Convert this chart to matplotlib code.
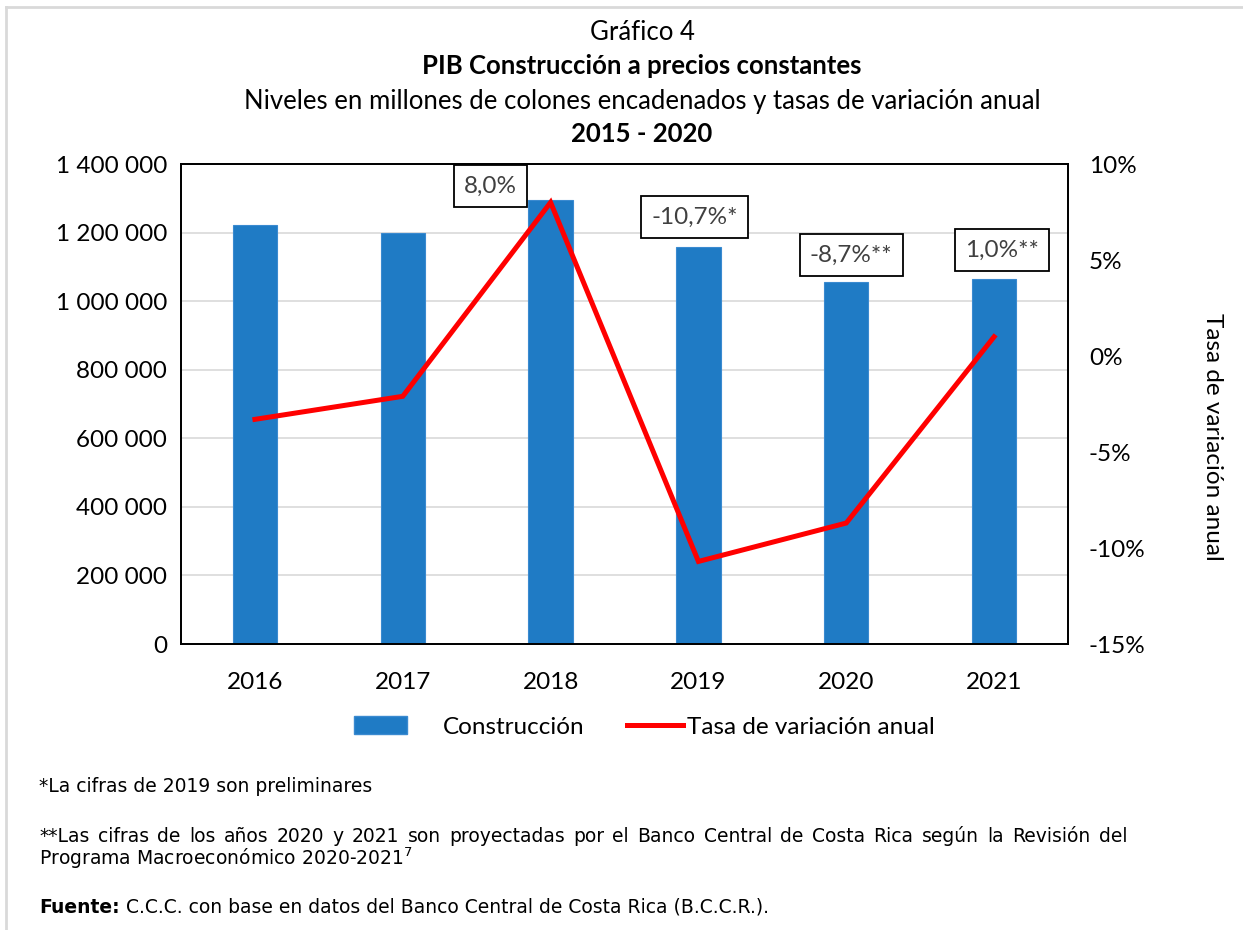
#!/usr/bin/env python
import matplotlib
matplotlib.use('Agg')
import matplotlib.pyplot as plt
from matplotlib.ticker import FuncFormatter
from matplotlib.lines import Line2D
from matplotlib.patches import Patch

# data
years = ['2016', '2017', '2018', '2019', '2020', '2021']
construccion = [1222000, 1199000, 1295000, 1158000, 1056000, 1065000]
tasa = [-3.3, -2.1, 8.0, -10.7, -8.7, 1.0]
etiquetas = ['8,0%', '-10,7%*', '-8,7%**', '1,0%**']
etiqueta_idx = [2, 3, 4, 5]

nota1 = '*La cifras de 2019 son preliminares'
nota2a = '**Las cifras de los años 2020 y 2021 son proyectadas por el Banco Central de Costa Rica según la Revisión del'
nota2b = 'Programa Macroeconómico 2020-2021$^7$'
fuente = 'C.C.C. con base en datos del Banco Central de Costa Rica (B.C.C.R.).'

chartfont = 'Lato'
notefont = 'DejaVu Sans'
barcolor = '#1f7bc5'
ticksize = 17.5
titlesize = 18.5
notesize = 13.5

fig = plt.figure(figsize=(12.43, 9.30), dpi=100)
ax = fig.add_axes([181/1243., 1-644/930., 887/1243., 480/930.])
ax2 = ax.twinx()

x = list(range(len(years)))
ax.bar(x, construccion, width=0.30, color=barcolor, edgecolor='#3a8ad0', linewidth=0.8, zorder=2)
ax2.plot(x, tasa, color='#ff0000', linewidth=3.6, solid_joinstyle='miter', zorder=3)

#axes limits and ticks
ax.set_xlim(-0.5, len(years)-0.5)
ax.set_ylim(0, 1400000)
ax.set_yticks(range(0, 1400001, 200000))
ax.yaxis.set_major_formatter(FuncFormatter(lambda v, p: '{:,.0f}'.format(v).replace(',', ' ')))
ax2.set_ylim(-15, 10)
ax2.set_yticks(range(-15, 11, 5))
ax2.yaxis.set_major_formatter(FuncFormatter(lambda v, p: '%d%%' % v))
ax.set_xticks(x)
ax.set_xticklabels(years)
ax.grid(axis='y', color='#d9d9d9', linewidth=1.2, zorder=0)
ax.set_axisbelow(True)
ax.tick_params(axis='y', length=0, pad=10, labelsize=ticksize)
ax.tick_params(axis='x', length=0, pad=20, labelsize=ticksize)
ax2.tick_params(axis='y', length=0, pad=15, labelsize=ticksize)
for lab in ax.get_xticklabels() + ax.get_yticklabels() + ax2.get_yticklabels():
	lab.set_fontfamily(chartfont)
for a in (ax, ax2):
	for s in a.spines.values():
		s.set_linewidth(1.3)
		s.set_color('black')

fig.text(1212/1243., 1-437/930., 'Tasa de variación anual', rotation=270, ha='center', va='center',
	fontsize=ticksize, fontfamily=chartfont)

#data labels
offs = [(-60, 14), (-4, 30), (5, 27), (8, 29)]
for k, i in enumerate(etiqueta_idx):
	ax.annotate(etiquetas[k], xy=(i, construccion[i]), xytext=offs[k], textcoords='offset pixels',
		ha='center', va='center', fontsize=ticksize, fontfamily=chartfont, color='#404040', zorder=5,
		bbox=dict(boxstyle='square,pad=0.42', fc='white', ec='black', lw=1.3), annotation_clip=False)

#titles
cx = 642/1243.
fig.text(cx, 1-32/930., 'Gráfico 4', ha='center', va='center', fontsize=titlesize, fontfamily=chartfont)
fig.text(cx, 1-66/930., 'PIB Construcción a precios constantes', ha='center', va='center', fontsize=titlesize, fontweight='bold', fontfamily=chartfont)
fig.text(cx, 1-101/930., 'Niveles en millones de colones encadenados y tasas de variación anual', ha='center', va='center', fontsize=titlesize, fontfamily=chartfont)
fig.text(cx, 1-134/930., '2015 - 2020', ha='center', va='center', fontsize=titlesize, fontweight='bold', fontfamily=chartfont)

#legend (two pieces, spacing differs between entries)
legprop = {'family': chartfont, 'size': ticksize}
fig.legend([Patch(facecolor=barcolor, edgecolor='#3a8ad0')], ['Construcción'], loc='center',
	bbox_to_anchor=(469/1243., 1-727/930.), frameon=False, prop=legprop, handlelength=2.2, handletextpad=1.45)
fig.legend([Line2D([0], [0], color='#ff0000', linewidth=3.6)], ['Tasa de variación anual'], loc='center',
	bbox_to_anchor=(781/1243., 1-727/930.), frameon=False, prop=legprop, handlelength=2.3, handletextpad=0.15)

#footnotes
fx = 39/1243.
fig.text(fx, 1-786/930., nota1, ha='left', va='center', fontsize=notesize, fontfamily=notefont)
fig.text(fx, 1-858/930., nota2b, ha='left', va='center', fontsize=notesize, fontfamily=notefont)
tb = fig.text(fx, 1-907/930., 'Fuente:', ha='left', va='center', fontsize=notesize, fontweight='bold', fontfamily=notefont)
tr = fig.text(fx, 1-907/930., ' ' + fuente, ha='left', va='center', fontsize=notesize, fontfamily=notefont)

# justified first line of the second note
renderer = fig.canvas.get_renderer()
words = nota2a.split(' ')
arts = [fig.text(0, 1-836/930., w, ha='left', va='center', fontsize=notesize, fontfamily=notefont) for w in words]
widths = [a.get_window_extent(renderer).width for a in arts]
x0, x1 = 39., 1127.
gap = (x1 - x0 - sum(widths)) / (len(words) - 1)
pos = x0
for a, w in zip(arts, widths):
	a.set_x(pos/1243.)
	pos += w + gap

# rest of fuente line after the bold word
bw = tb.get_window_extent(renderer).width
tr.set_x(fx + bw/1243.)

#outer frame
fig.add_artist(Line2D([6/1243., 6/1243.], [0, 1-7/930.], transform=fig.transFigure, color='#d9d9d9', linewidth=2))
fig.add_artist(Line2D([6/1243., 1], [1-7/930., 1-7/930.], transform=fig.transFigure, color='#d9d9d9', linewidth=2))

plt.savefig('out.png', dpi=100)
